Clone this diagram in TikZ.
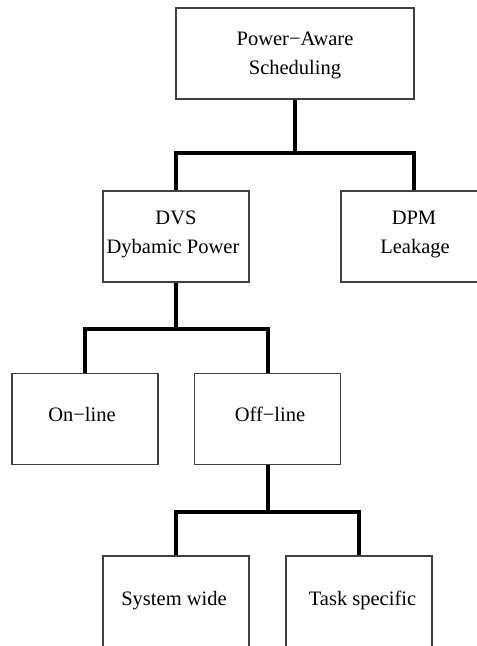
\documentclass[tikz,border=0pt]{standalone}
\usepackage{fontspec}
\setmainfont{Liberation Serif}
\begin{document}
\begin{tikzpicture}[x=1pt,y=-1pt,
  box/.style={draw=black!75,line width=1.1pt,minimum width=146pt,minimum height=91pt,inner sep=0pt,fill=white},
  bigbox/.style={box,minimum width=238pt},
  txt/.style={anchor=base,inner sep=0pt,font=\fontsize{20.5}{25}\selectfont},
  conn/.style={line width=4pt}]
\useasboundingbox (0,0) rectangle (477,646);
\clip (0,0) rectangle (477,646);
% boxes
\node[bigbox] (top) at (295,53.5) {};
\node[box] (dvs) at (176,236.5) {};
\node[box] (dpm) at (414,236.5) {};
\node[box] (on) at (85,419) {};
\node[box] (off) at (267.5,419) {};
\node[box] (sys) at (176,601.5) {};
\node[box] (task) at (359,601.5) {};
% texts
\node[txt] (t1) at (295,45.7) {Power−Aware};
\node[txt] (t2) at (295,74) {Scheduling};
\node[txt] (t3) at (176,224) {DVS};
\node[txt] (t4) at (173,253) {Dybamic Power};
\node[txt] (t5) at (414,224) {DPM};
\node[txt] (t6) at (415,253) {Leakage};
\node[txt] (t7) at (82,421) {On−line};
\node[txt] (t8) at (270,421) {Off−line};
\node[txt] (t9) at (174,605) {System wide};
\node[txt] (t10) at (362.5,605) {Task specific};
% connectors
\coordinate (b1) at (295,153);
\coordinate (b2) at (176,329);
\coordinate (b3) at (267.5,512);
\draw[conn] (top.south) -- (b1);
\draw[conn] (dvs.north) |- (b1) -| (dpm.north);
\draw[conn] (dvs.south) -- (b2);
\draw[conn] (on.north) |- (b2) -| (off.north);
\draw[conn] (off.south) -- (b3);
\draw[conn] (sys.north) |- (b3) -| (task.north);
\end{tikzpicture}
\end{document}
